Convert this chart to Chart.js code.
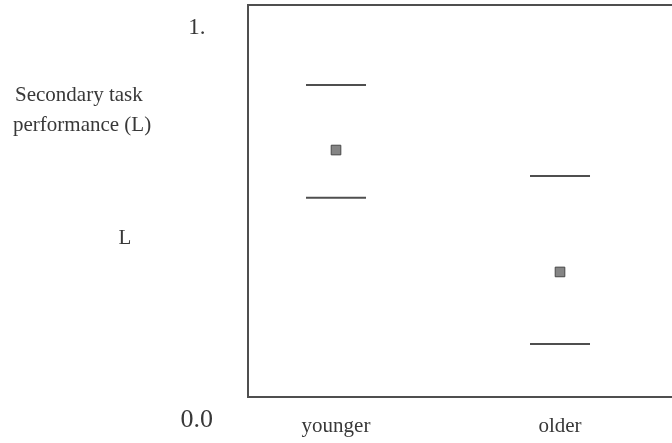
<!DOCTYPE html>
<html>
<head>
<meta charset="utf-8">
<script src="https://cdn.jsdelivr.net/npm/chart.js@4/dist/chart.umd.min.js"></script>
<style>
  html, body { margin: 0; padding: 0; background: #ffffff; overflow: hidden; }
  #wrap { width: 680px; height: 443px; }
</style>
</head>
<body>
<div id="wrap"><canvas id="c" width="680" height="443"></canvas></div>
<script>
// Groups on the horizontal axis
const categories = ['younger', 'older'];
// Mean secondary task performance per group
const meanValues = [0.630, 0.319];
// Upper and lower interval bounds per group
const upperValues = [0.796, 0.564];
const lowerValues = [0.508, 0.135];
// Vertical axis tick values and their labels
const yTickValues = [0, 1];
const yTickLabels = ['0.0', '1.'];

const textColor = '#383838';
const inkColor = '#4f4f4f';
const serif = '"Liberation Serif", "Times New Roman", serif';

const toPoints = vals => vals.map((v, i) => ({ x: i, y: v }));

// Keep the axes from reserving extra room for their edge labels
const noEdgePadding = s => {
  s.paddingTop = 0; s.paddingBottom = 0; s.paddingLeft = 0; s.paddingRight = 0;
};

// Frame around the plot area and free-standing axis texts
const framePlugin = {
  id: 'frame',
  afterDatasetsDraw(chart) {
    const { ctx, chartArea: a } = chart;
    ctx.save();
    ctx.strokeStyle = inkColor;
    ctx.lineWidth = 2;
    ctx.strokeRect(a.left, a.top, a.right - a.left, a.bottom - a.top);
    ctx.fillStyle = textColor;
    ctx.font = '21px ' + serif;
    ctx.textBaseline = 'middle';
    ctx.textAlign = 'left';
    ctx.fillText('Secondary task', 15, 95);
    ctx.fillText('performance (L)', 13, 125);
    ctx.textAlign = 'center';
    ctx.fillText('L', 125, 238);
    ctx.restore();
  }
};

new Chart(document.getElementById('c'), {
  type: 'scatter',
  data: {
    datasets: [
      {
        label: 'upper',
        data: toPoints(upperValues),
        pointStyle: 'line',
        pointRadius: 30,
        borderColor: inkColor,
        borderWidth: 2
      },
      {
        label: 'lower',
        data: toPoints(lowerValues),
        pointStyle: 'line',
        pointRadius: 30,
        borderColor: inkColor,
        borderWidth: 2
      },
      {
        label: 'mean',
        data: toPoints(meanValues),
        pointStyle: 'rect',
        pointRadius: 6.8,
        backgroundColor: '#858585',
        borderColor: '#474747',
        borderWidth: 1
      }
    ]
  },
  options: {
    responsive: false,
    devicePixelRatio: 1,
    animation: false,
    events: [],
    layout: { autoPadding: false, padding: { top: 5, left: 0, right: 0, bottom: 0 } },
    plugins: {
      legend: { display: false },
      tooltip: { enabled: false }
    },
    scales: {
      x: {
        type: 'linear',
        min: -0.3929,
        max: 1.5357,
        grid: { display: false, drawTicks: false },
        border: { display: false },
        afterBuildTicks: s => { s.ticks = categories.map((c, i) => ({ value: i })); },
        afterFit: s => { s.height = 46; noEdgePadding(s); },
        ticks: {
          padding: 17,
          color: textColor,
          font: { family: serif, size: 21 },
          maxRotation: 0,
          autoSkip: false,
          callback: v => categories[v]
        }
      },
      y: {
        min: 0,
        max: 1,
        grid: { display: false, drawTicks: false },
        border: { display: false },
        afterBuildTicks: s => { s.ticks = yTickValues.map(v => ({ value: v })); },
        afterFit: s => { s.width = 248; noEdgePadding(s); },
        ticks: {
          crossAlign: 'center',
          padding: 35,
          labelOffset: 23,
          color: textColor,
          font: ctx => ({ family: serif, size: ctx.tick && ctx.tick.value === 0 ? 26 : 23 }),
          callback: v => yTickLabels[yTickValues.indexOf(v)]
        }
      }
    }
  },
  plugins: [framePlugin]
});
</script>
</body>
</html>
